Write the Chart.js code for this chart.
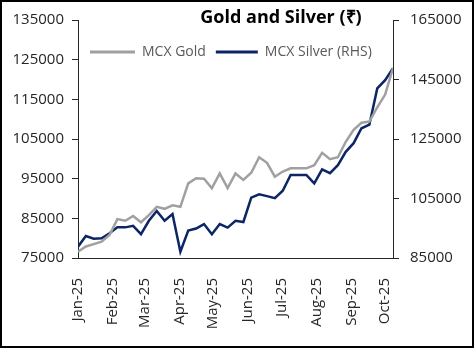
<!DOCTYPE html>
<html>
<head>
<meta charset="utf-8">
<script src="https://cdn.jsdelivr.net/npm/chart.js@4.4.1/dist/chart.umd.min.js"></script>
<style>
  html, body { margin: 0; padding: 0; background: #fff; }
  #wrap { position: relative; width: 474px; height: 348px; }
</style>
</head>
<body>
<div id="wrap"><canvas id="metalChart" width="474" height="348"></canvas></div>
<script>
// weekly observations, day offset from 1 Jan 2025
const days = [0, 7, 14, 21, 28, 35, 42, 49, 56, 63, 70, 77, 84, 91, 98, 105, 112, 119, 126, 133,
  140, 147, 154, 161, 168, 175, 182, 189, 196, 203, 210, 217, 224, 231, 238, 245, 252, 259, 266, 273, 280];

const goldPrices = [76600, 77900, 78500, 79100, 80800, 84800, 84400, 85600, 84000, 85800,
  87900, 87400, 88300, 87900, 93800, 95100, 95000, 92600, 96300, 92600,
  96300, 94700, 96500, 100400, 99000, 95500, 96800, 97600, 97600, 97600,
  98400, 101500, 99900, 100400, 104300, 107300, 109100, 109400, 113000, 116200, 122900];

const silverPrices = [88800, 92400, 91500, 91600, 93300, 95300, 95300, 95800, 93000, 97500,
  100800, 97500, 99800, 87100, 94200, 94900, 96400, 93000, 96400, 95200,
  97500, 97100, 105300, 106400, 105800, 105100, 107600, 112900, 112900, 112900,
  110100, 114800, 113500, 116200, 120700, 123600, 128600, 129800, 142000, 144800, 148800];

const monthStarts = [0, 31, 59, 90, 120, 151, 181, 212, 243, 273];
const monthLabels = ["Jan-25", "Feb-25", "Mar-25", "Apr-25", "May-25", "Jun-25", "Jul-25", "Aug-25", "Sep-25", "Oct-25"];

const titleText = "Gold and Silver (\u20B9)";
const tickFont = { family: "'Open Sans', sans-serif", size: 15 };
const axisColor = "#262626";

const overlayPlugin = {
  id: "overlay",
  afterDraw(chart) {
    const { ctx, chartArea } = chart;
    ctx.save();
    // title
    ctx.fillStyle = "#000";
    ctx.font = "bold 18px 'Open Sans', sans-serif";
    ctx.textAlign = "center";
    ctx.textBaseline = "middle";
    ctx.fillText(titleText, chartArea.left + 203, 18);

    // legend
    ctx.font = "14px 'Open Sans', sans-serif";
    ctx.textAlign = "left";
    let x = chartArea.left + 12;
    const y = 52;
    chart.data.datasets.forEach((ds, i) => {
      const len = i === 0 ? 45 : 42;
      ctx.strokeStyle = ds.borderColor;
      ctx.lineWidth = 3;
      ctx.beginPath();
      ctx.moveTo(x, y);
      ctx.lineTo(x + len, y);
      ctx.stroke();
      x += len + 7;
      ctx.fillStyle = "#595959";
      ctx.fillText(ds.label, x, y);
      x += ctx.measureText(ds.label).width + 10;
    });

    // outer frame
    ctx.strokeStyle = "#000";
    ctx.lineWidth = 2;
    ctx.strokeRect(1, 1, chart.width - 2, chart.height - 2);
    ctx.restore();
  },
};

const ctx = document.getElementById("metalChart").getContext("2d");

new Chart(ctx, {
  type: "line",
  data: {
    datasets: [
      {
        label: "MCX Gold",
        data: days.map((d, i) => ({ x: d, y: goldPrices[i] })),
        borderColor: "#A0A0A0",
        borderWidth: 2.5,
        pointRadius: 0,
        tension: 0,
        yAxisID: "y",
      },
      {
        label: "MCX Silver (RHS)",
        data: days.map((d, i) => ({ x: d, y: silverPrices[i] })),
        borderColor: "#0B2565",
        borderWidth: 2.5,
        pointRadius: 0,
        tension: 0,
        yAxisID: "y1",
      },
    ],
  },
  options: {
    responsive: false,
    animation: false,
    layout: { padding: { top: 20, left: 2, right: 2, bottom: 2 } },
    plugins: {
      legend: { display: false },
      title: { display: false },
      tooltip: { enabled: false },
    },
    scales: {
      x: {
        type: "linear",
        min: 0,
        max: 280,
        afterBuildTicks: (scale) => {
          scale.ticks = monthStarts.map((v) => ({ value: v }));
        },
        afterFit: (scale) => {
          scale.height = 88;
        },
        ticks: {
          autoSkip: false,
          minRotation: 90,
          maxRotation: 90,
          padding: 12,
          color: axisColor,
          font: tickFont,
          callback: (value) => monthLabels[monthStarts.indexOf(value)],
        },
        grid: { display: false },
        border: { display: true, color: axisColor, width: 1 },
      },
      y: {
        position: "left",
        min: 75000,
        max: 135000,
        afterFit: (scale) => {
          scale.width = 76;
        },
        ticks: {
          stepSize: 10000,
          padding: 8,
          color: axisColor,
          font: tickFont,
          callback: (value) => String(value),
        },
        grid: { drawOnChartArea: false, drawTicks: true, tickLength: 6, color: axisColor },
        border: { display: true, color: axisColor, width: 1 },
      },
      y1: {
        position: "right",
        min: 85000,
        max: 165000,
        afterFit: (scale) => {
          scale.width = 79;
        },
        ticks: {
          stepSize: 20000,
          padding: 11,
          color: axisColor,
          font: tickFont,
          callback: (value) => String(value),
        },
        grid: { drawOnChartArea: false, drawTicks: true, tickLength: 6, color: axisColor },
        border: { display: true, color: axisColor, width: 1 },
      },
    },
  },
  plugins: [overlayPlugin],
});
</script>
</body>
</html>
